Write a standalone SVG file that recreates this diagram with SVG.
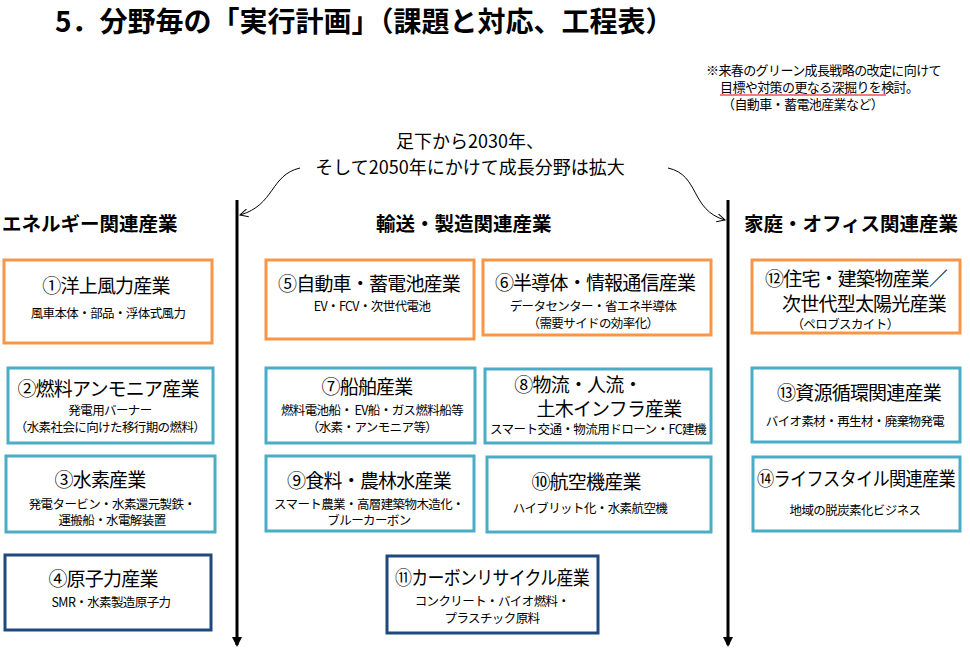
<svg xmlns="http://www.w3.org/2000/svg" width="970" height="652" viewBox="0 0 970 652">
<style>
text{font-family:"Noto Sans CJK JP","Liberation Sans",sans-serif;fill:#000}
.o{fill:#fff;stroke:#F79646;stroke-width:3}
.t{fill:#fff;stroke:#4BACC6;stroke-width:3}
.d{fill:#fff;stroke:#1F497D;stroke-width:3}
.h{font-size:19px;text-anchor:middle;letter-spacing:-0.8px}
.s{font-size:12.5px;text-anchor:middle;letter-spacing:-0.6px}
.c{font-size:19.5px;font-weight:bold}
</style>
<defs>
<marker id="a" markerWidth="10" markerHeight="10" refX="8" refY="5" orient="auto" markerUnits="userSpaceOnUse"><path d="M0,0 L10,5 L0,10 Z" fill="#000"/></marker>
<marker id="b" markerWidth="10" markerHeight="10" refX="8" refY="5" orient="auto" markerUnits="userSpaceOnUse"><path d="M0,1 L8,5 L0,9" fill="none" stroke="#000"/></marker>
</defs>
<text x="55" y="32" font-size="28" font-weight="bold">5．分野毎の「実行計画」（課題と対応、工程表）</text>
<text x="706" y="75" font-size="13" letter-spacing="-0.6">※来春のグリーン成長戦略の改定に向けて</text>
<text x="720" y="92" font-size="13" letter-spacing="-0.6">目標や対策の更なる深掘りを検討。</text>
<line x1="720" y1="95" x2="886" y2="95" stroke="#E00000" stroke-width="1.2"/>
<text x="722" y="109" font-size="13" letter-spacing="-0.6">（自動車・蓄電池産業など）</text>
<text x="470" y="148" font-size="18" text-anchor="middle">足下から2030年、</text>
<text x="470" y="174" font-size="18" text-anchor="middle">そして2050年にかけて成長分野は拡大</text>
<text x="2" y="231" class="c">エネルギー関連産業</text>
<text x="376" y="231" class="c">輸送・製造関連産業</text>
<text x="744" y="231" class="c">家庭・オフィス関連産業</text>
<g id="connectors" fill="none" stroke="#000">
<line x1="237" y1="200" x2="237" y2="645" stroke-width="3" marker-end="url(#a)"/>
<line x1="728" y1="200" x2="728" y2="645" stroke-width="3" marker-end="url(#a)"/>
<path d="M300,168 C270,175 275,205 240,215" marker-end="url(#b)"/>
<path d="M668,168 C700,175 690,210 725,220" marker-end="url(#b)"/>
</g>
<g id="n1"><rect class="o" x="4" y="260" width="208" height="83"/><text class="h" x="106" y="293">①洋上風力産業</text><text class="s" x="108" y="318">風車本体・部品・浮体式風力</text></g>
<g id="n2"><rect class="t" x="8" y="368" width="205" height="75"/><text class="h" x="108" y="396">②燃料アンモニア産業</text><text class="s" x="110" y="415">発電用バーナー</text><text class="s" x="110" y="432">（水素社会に向けた移行期の燃料）</text></g>
<g id="n3"><rect class="t" x="6" y="456" width="209" height="76"/><text class="h" x="100" y="487">③水素産業</text><text class="s" x="112" y="509">発電タービン・水素還元製鉄・</text><text class="s" x="112" y="525">運搬船・水電解装置</text></g>
<g id="n4"><rect class="d" x="5" y="555" width="206" height="75"/><text class="h" x="103" y="586">④原子力産業</text><text class="s" x="111" y="607">SMR・水素製造原子力</text></g>
<g id="n5"><rect class="o" x="266" y="260" width="208" height="79"/><text class="h" x="369" y="291">⑤自動車・蓄電池産業</text><text class="s" x="372" y="311">EV・FCV・次世代電池</text></g>
<g id="n6"><rect class="o" x="483" y="260" width="228" height="75"/><text class="h" x="595" y="290">⑥半導体・情報通信産業</text><text class="s" x="593" y="311">データセンター・省エネ半導体</text><text class="s" x="593" y="328">（需要サイドの効率化）</text></g>
<g id="n7"><rect class="t" x="266" y="368" width="209" height="75"/><text class="h" x="367" y="394">⑦船舶産業</text><text class="s" x="372" y="415">燃料電池船・ EV船・ガス燃料船等</text><text class="s" x="372" y="432">（水素・アンモニア等）</text></g>
<g id="n8"><rect class="t" x="485" y="369" width="226" height="74"/><text class="h" x="578" y="392">⑧物流・人流・</text><text class="h" x="609" y="416">土木インフラ産業</text><text class="s" x="598" y="434" textLength="216" lengthAdjust="spacingAndGlyphs">スマート交通・物流用ドローン・FC建機</text></g>
<g id="n9"><rect class="t" x="266" y="456" width="208" height="75"/><text class="h" x="369" y="488">⑨食料・農林水産業</text><text class="s" x="369" y="509">スマート農業・高層建築物木造化・</text><text class="s" x="369" y="525">ブルーカーボン</text></g>
<g id="n10"><rect class="t" x="487" y="457" width="224" height="75"/><text class="h" x="586" y="489">⑩航空機産業</text><text class="s" x="590" y="513">ハイブリット化・水素航空機</text></g>
<g id="n11"><rect class="d" x="387" y="556" width="211" height="77"/><text class="h" x="492" y="585" textLength="194" lengthAdjust="spacingAndGlyphs">⑪カーボンリサイクル産業</text><text class="s" x="492" y="606">コンクリート・バイオ燃料・</text><text class="s" x="492" y="623">プラスチック原料</text></g>
<g id="n12"><rect class="o" x="752" y="260" width="208" height="73"/><text class="h" x="856" y="286">⑫住宅・建築物産業／</text><text class="h" x="864" y="311">次世代型太陽光産業</text><text class="s" x="845" y="329">（ペロブスカイト）</text></g>
<g id="n13"><rect class="t" x="752" y="368" width="208" height="74"/><text class="h" x="859" y="400">⑬資源循環関連産業</text><text class="s" x="855" y="426">バイオ素材・再生材・廃棄物発電</text></g>
<g id="n14"><rect class="t" x="753" y="457" width="207" height="74"/><text class="h" x="856" y="486" textLength="198" lengthAdjust="spacingAndGlyphs">⑭ライフスタイル関連産業</text><text class="s" x="855" y="515">地域の脱炭素化ビジネス</text></g>
</svg>
